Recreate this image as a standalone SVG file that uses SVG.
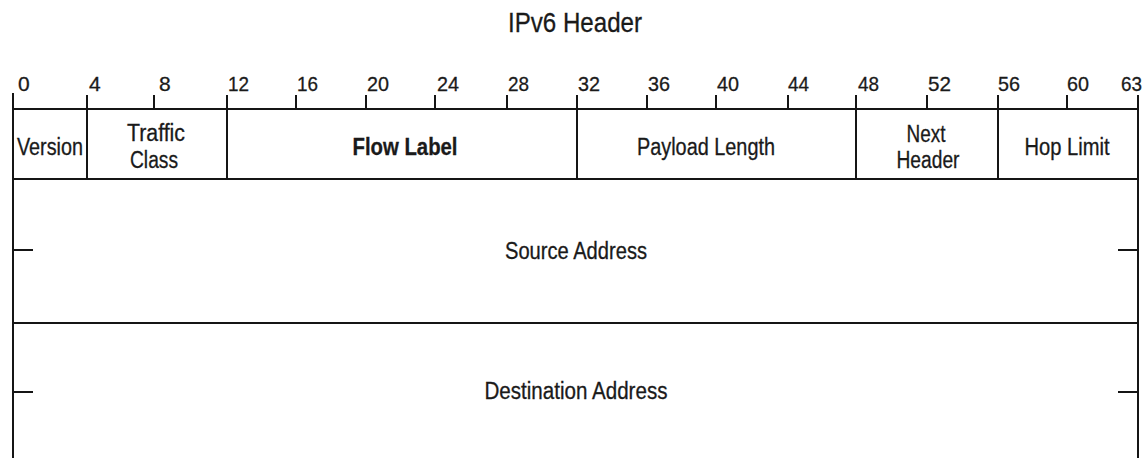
<svg xmlns="http://www.w3.org/2000/svg" width="1144" height="458" viewBox="0 0 1144 458">
<style>
.ln{stroke:#151515;stroke-width:2;fill:none;stroke-linecap:butt}
.t{font-family:"Liberation Sans",Arial,sans-serif;font-size:23px;fill:#1a1a1a;stroke:#1a1a1a;stroke-width:0.3;text-anchor:middle}
.b{font-weight:bold}
.n{font-family:"Liberation Sans",Arial,sans-serif;font-size:21px;fill:#1a1a1a;stroke:#1a1a1a;stroke-width:0.3;text-anchor:start}
.ttl{font-family:"Liberation Sans",Arial,sans-serif;font-size:28px;fill:#1a1a1a;stroke:#1a1a1a;stroke-width:0.3;text-anchor:middle}
</style>
<rect x="0" y="0" width="1144" height="458" fill="#ffffff"/>
<g id="title"><text class="ttl" x="575" y="32" textLength="134" lengthAdjust="spacingAndGlyphs">IPv6 Header</text></g>
<g id="scale">
<g class="ln">
<line x1="13" y1="93" x2="13" y2="458"/>
<line x1="1138" y1="95" x2="1138" y2="458"/>
<line x1="154" y1="95" x2="154" y2="109"/>
<line x1="296" y1="95" x2="296" y2="109"/>
<line x1="366" y1="95" x2="366" y2="109"/>
<line x1="435" y1="95" x2="435" y2="109"/>
<line x1="507" y1="95" x2="507" y2="109"/>
<line x1="647" y1="95" x2="647" y2="109"/>
<line x1="716" y1="95" x2="716" y2="109"/>
<line x1="788" y1="95" x2="788" y2="109"/>
<line x1="927" y1="95" x2="927" y2="109"/>
<line x1="1067" y1="95" x2="1067" y2="109"/>
</g>
<text class="n" x="18" y="91">0</text>
<text class="n" x="89" y="91">4</text>
<text class="n" x="159" y="91">8</text>
<text class="n" x="228" y="91" textLength="21" lengthAdjust="spacingAndGlyphs">12</text>
<text class="n" x="297" y="91" textLength="21" lengthAdjust="spacingAndGlyphs">16</text>
<text class="n" x="367" y="91" textLength="22" lengthAdjust="spacingAndGlyphs">20</text>
<text class="n" x="437" y="91" textLength="22" lengthAdjust="spacingAndGlyphs">24</text>
<text class="n" x="508" y="91" textLength="21" lengthAdjust="spacingAndGlyphs">28</text>
<text class="n" x="578" y="91" textLength="22" lengthAdjust="spacingAndGlyphs">32</text>
<text class="n" x="648" y="91" textLength="22" lengthAdjust="spacingAndGlyphs">36</text>
<text class="n" x="717" y="91" textLength="22" lengthAdjust="spacingAndGlyphs">40</text>
<text class="n" x="788" y="91" textLength="21" lengthAdjust="spacingAndGlyphs">44</text>
<text class="n" x="858" y="91" textLength="21" lengthAdjust="spacingAndGlyphs">48</text>
<text class="n" x="928" y="91" textLength="23" lengthAdjust="spacingAndGlyphs">52</text>
<text class="n" x="998" y="91" textLength="22" lengthAdjust="spacingAndGlyphs">56</text>
<text class="n" x="1067" y="91" textLength="22" lengthAdjust="spacingAndGlyphs">60</text>
<text class="n" x="1121" y="91" textLength="21" lengthAdjust="spacingAndGlyphs">63</text>
</g>
<g id="grid" class="ln">
<line x1="12" y1="109" x2="1139" y2="109"/>
<line x1="12" y1="179" x2="1139" y2="179"/>
<line x1="12" y1="323" x2="1139" y2="323"/>
<line x1="87" y1="95" x2="87" y2="179"/>
<line x1="227" y1="95" x2="227" y2="179"/>
<line x1="577" y1="95" x2="577" y2="179"/>
<line x1="856" y1="95" x2="856" y2="179"/>
<line x1="998" y1="95" x2="998" y2="179"/>
<line x1="13" y1="250" x2="33" y2="250"/>
<line x1="13" y1="392" x2="33" y2="392"/>
<line x1="1118" y1="250" x2="1138" y2="250"/>
<line x1="1118" y1="392" x2="1138" y2="392"/>
</g>
<g id="version"><text class="t" x="50" y="155" textLength="66" lengthAdjust="spacingAndGlyphs">Version</text></g>
<g id="traffic-class"><text class="t" x="156" y="141" textLength="58" lengthAdjust="spacingAndGlyphs">Traffic</text><text class="t" x="154" y="168" textLength="48" lengthAdjust="spacingAndGlyphs">Class</text></g>
<g id="flow-label"><text class="t b" x="405" y="155" textLength="105" lengthAdjust="spacingAndGlyphs">Flow Label</text></g>
<g id="payload-length"><text class="t" x="706" y="155" textLength="138" lengthAdjust="spacingAndGlyphs">Payload Length</text></g>
<g id="next-header"><text class="t" x="926" y="142" textLength="39" lengthAdjust="spacingAndGlyphs">Next</text><text class="t" x="928" y="168" textLength="63" lengthAdjust="spacingAndGlyphs">Header</text></g>
<g id="hop-limit"><text class="t" x="1067" y="155" textLength="85" lengthAdjust="spacingAndGlyphs">Hop Limit</text></g>
<g id="source-address"><text class="t" x="576" y="259" textLength="142" lengthAdjust="spacingAndGlyphs">Source Address</text></g>
<g id="destination-address"><text class="t" x="576" y="399" textLength="183" lengthAdjust="spacingAndGlyphs">Destination Address</text></g>
<g id="connectors"/>
</svg>
